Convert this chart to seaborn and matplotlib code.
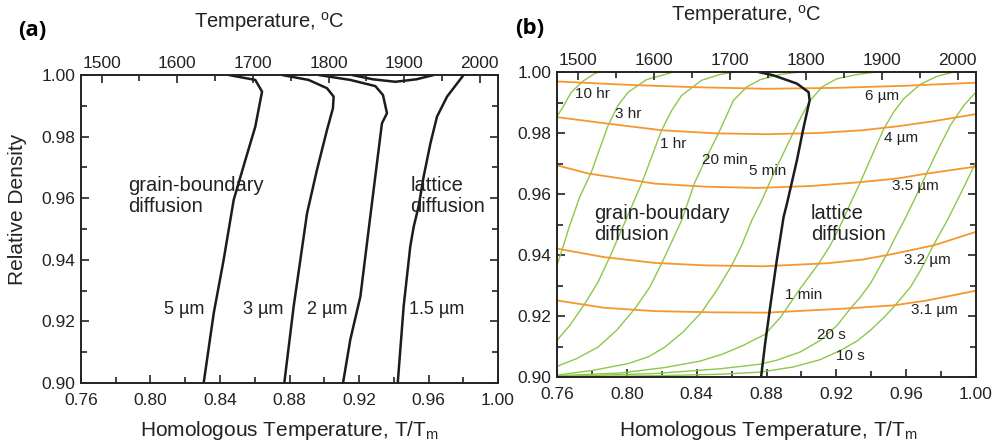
import matplotlib
matplotlib.use("Agg")
import matplotlib.pyplot as plt
from matplotlib.ticker import MultipleLocator, FormatStrFormatter
import seaborn as sns

# melting point used for the upper temperature scale (K)
TM = 2297

# ---- panel (a): grain-size contours separating the two mechanisms ----
a_5um_x = [0.8306, 0.8364, 0.8421, 0.8479, 0.8546, 0.8603, 0.8642, 0.8603, 0.8450]
a_5um_y = [0.900, 0.9227, 0.940, 0.9595, 0.9724, 0.9832, 0.9946, 0.9984, 1.000]
a_3um_x = [0.8770, 0.8824, 0.8901, 0.8958, 0.9016, 0.9050, 0.9054, 0.9016, 0.8910, 0.8757]
a_3um_y = [0.900, 0.9249, 0.9551, 0.9692, 0.9822, 0.9892, 0.9930, 0.9957, 0.9984, 1.000]
a_2um_x = [0.9108, 0.9150, 0.9208, 0.9265, 0.9332, 0.9361, 0.9338, 0.9294, 0.9150, 0.8968]
a_2um_y = [0.900, 0.9141, 0.9281, 0.9541, 0.9843, 0.9876, 0.9935, 0.9964, 0.9984, 1.000]
a_bowl_x = [0.9160, 0.9280, 0.9409, 0.9530, 0.9630]
a_bowl_y = [1.000, 0.9986, 0.9978, 0.9986, 1.000]
a_15um_x = [0.9423, 0.9457, 0.9495, 0.9515, 0.9543, 0.9572, 0.9611, 0.9649, 0.9707, 0.9802]
a_15um_y = [0.900, 0.9249, 0.9443, 0.9508, 0.9573, 0.9670, 0.9778, 0.9865, 0.9930, 1.000]

a_curves = [(a_5um_x, a_5um_y), (a_3um_x, a_3um_y), (a_2um_x, a_2um_y),
            (a_bowl_x, a_bowl_y), (a_15um_x, a_15um_y)]
a_labels = ["5 µm", "3 µm", "2 µm", "1.5 µm"]
a_label_x = [0.8076, 0.8531, 0.8901, 0.9486]
a_label_y = [0.924, 0.924, 0.924, 0.924]

# ---- panel (b): boundary, grain-size contours and isochrones ----
b_bound_x = [0.8754, 0.8840, 0.8974, 0.9041, 0.9047, 0.9013, 0.8974, 0.8917, 0.8898, 0.8859, 0.8821, 0.8792, 0.8769]
b_bound_y = [1.000, 0.9989, 0.9962, 0.9934, 0.9907, 0.9820, 0.9710, 0.9568, 0.9525, 0.9383, 0.9230, 0.9109, 0.900]

# grain size contours (orange)
gs_names = ["6 µm", "4 µm", "3.5 µm", "3.2 µm", "3.1 µm"]
gs_6_x = [0.76, 0.80, 0.84, 0.88, 0.92, 0.96, 1.00]
gs_6_y = [0.9969, 0.9958, 0.9950, 0.9945, 0.9948, 0.9955, 0.9965]
gs_4_x = [0.76, 0.79, 0.82, 0.85, 0.88, 0.91, 0.935, 0.955, 0.975, 1.00]
gs_4_y = [0.9852, 0.9830, 0.9809, 0.9799, 0.9796, 0.9800, 0.9809, 0.9822, 0.9838, 0.9862]
gs_35_x = [0.76, 0.778, 0.80, 0.816, 0.845, 0.875, 0.905, 0.934, 0.955, 0.972, 1.00]
gs_35_y = [0.9694, 0.9667, 0.9648, 0.9634, 0.9624, 0.9620, 0.9626, 0.9639, 0.9651, 0.9667, 0.9690]
gs_32_x = [0.76, 0.787, 0.816, 0.845, 0.878, 0.915, 0.935, 0.953, 0.976, 1.00]
gs_32_y = [0.9421, 0.9393, 0.9374, 0.9366, 0.9363, 0.9373, 0.9385, 0.9404, 0.9432, 0.9476]
gs_31_x = [0.76, 0.787, 0.816, 0.85, 0.88, 0.924, 0.953, 0.972, 1.00]
gs_31_y = [0.9251, 0.9227, 0.9216, 0.9212, 0.9211, 0.9224, 0.9235, 0.9251, 0.9283]
gs_curves = [(gs_6_x, gs_6_y), (gs_4_x, gs_4_y), (gs_35_x, gs_35_y),
             (gs_32_x, gs_32_y), (gs_31_x, gs_31_y)]
gs_label_x = [0.9367, 0.9472, 0.9520, 0.9587, 0.9625]
gs_label_y = [0.9921, 0.9785, 0.9625, 0.9385, 0.9221]

# isochrones (green)
t_names = ["10 hr", "3 hr", "1 hr", "20 min", "5 min", "1 min", "20 s", "10 s"]
t_10h_x = [0.76, 0.7634, 0.7682, 0.7749, 0.7816, 0.7845]
t_10h_y = [0.9855, 0.9885, 0.9934, 0.9970, 0.9995, 1.000]
t_3h_x = [0.76, 0.7634, 0.7673, 0.7730, 0.7797, 0.7845, 0.7893, 0.7950, 0.8008, 0.8113, 0.8237, 0.8266]
t_3h_y = [0.9366, 0.9426, 0.9497, 0.9590, 0.9672, 0.9749, 0.9825, 0.9891, 0.9934, 0.9975, 0.9995, 1.000]
t_1h_x = [0.76, 0.7673, 0.7759, 0.7835, 0.7902, 0.7994, 0.8088, 0.8199, 0.8257, 0.8314, 0.8429, 0.8534, 0.8620]
t_1h_y = [0.9120, 0.9169, 0.9240, 0.9311, 0.9393, 0.9514, 0.9639, 0.9809, 0.9874, 0.9923, 0.9973, 0.9992, 1.000]
t_20m_x = [0.76, 0.7711, 0.7835, 0.7941, 0.8046, 0.8132, 0.8199, 0.8257, 0.8314, 0.8390, 0.8457,
           0.8524, 0.8611, 0.8687, 0.8764, 0.8879, 0.8993]
t_20m_y = [0.9035, 0.9060, 0.9098, 0.9153, 0.9224, 0.9295, 0.9372, 0.9443, 0.9514, 0.9639, 0.9721,
           0.9798, 0.9907, 0.9951, 0.9975, 0.9992, 1.000]
t_5m_x = [0.76, 0.7807, 0.8008, 0.8123, 0.8218, 0.8323, 0.8429, 0.8515, 0.8601, 0.8658, 0.8716,
          0.8764, 0.8850, 0.8946, 0.9003, 0.9051, 0.9118, 0.9204, 0.9319, 0.9434]
t_5m_y = [0.9006, 0.9022, 0.9044, 0.9066, 0.9098, 0.9148, 0.9213, 0.9284, 0.9366, 0.9432, 0.9514,
          0.9568, 0.9678, 0.9792, 0.9858, 0.9907, 0.9951, 0.9978, 0.9992, 1.000]
t_1m_x = [0.76, 0.7960, 0.8218, 0.8419, 0.8544, 0.8668, 0.8792, 0.8879, 0.8993, 0.9099, 0.9166,
          0.9223, 0.9280, 0.9338, 0.9405, 0.9472, 0.9529, 0.9587, 0.9682, 0.9778, 0.9874]
t_1m_y = [0.9004, 0.9013, 0.9031, 0.9052, 0.9074, 0.9104, 0.9140, 0.9195, 0.9290, 0.9372, 0.9432,
          0.9497, 0.9568, 0.9639, 0.9727, 0.9814, 0.9869, 0.9913, 0.9960, 0.9986, 1.000]
t_20s_x = [0.76, 0.8151, 0.8534, 0.8764, 0.8859, 0.8993, 0.9108, 0.9204, 0.9280, 0.9338, 0.9395,
           0.9443, 0.9491, 0.9539, 0.9587, 0.9654, 0.9721, 0.9788, 0.9855, 0.9931, 1.000]
t_20s_y = [0.9002, 0.9011, 0.9027, 0.9042, 0.9055, 0.9082, 0.9120, 0.9169, 0.9224, 0.9262, 0.9306,
           0.9355, 0.9404, 0.9459, 0.9511, 0.9590, 0.9672, 0.9752, 0.9827, 0.9891, 0.9934]
t_10s_x = [0.76, 0.8151, 0.8534, 0.8764, 0.8955, 0.9108, 0.9223, 0.9319, 0.9395, 0.9472, 0.9529,
           0.9625, 0.9682, 0.9759, 0.9836, 0.9912, 1.000]
t_10s_y = [0.9001, 0.9004, 0.9009, 0.9016, 0.9033, 0.9057, 0.9087, 0.9118, 0.9153, 0.9195, 0.9230,
           0.9295, 0.9350, 0.9435, 0.9514, 0.9601, 0.9705]
t_curves = [(t_10h_x, t_10h_y), (t_3h_x, t_3h_y), (t_1h_x, t_1h_y), (t_20m_x, t_20m_y),
            (t_5m_x, t_5m_y), (t_1m_x, t_1m_y), (t_20s_x, t_20s_y), (t_10s_x, t_10s_y)]
t_label_x = [0.7701, 0.7931, 0.8190, 0.8429, 0.8697, 0.8907, 0.9089, 0.9200]
t_label_y = [0.9929, 0.9861, 0.9765, 0.9713, 0.9674, 0.9268, 0.9139, 0.9069]

ORANGE = "#f7962d"
GREEN = "#8cc84b"
BLACK = "#1c1c1c"

sns.set_style("ticks")
plt.rcParams["font.family"] = ["Liberation Sans", "DejaVu Sans"]
plt.rcParams["mathtext.fontset"] = "custom"
plt.rcParams["mathtext.rm"] = "Liberation Sans"
plt.rcParams["mathtext.it"] = "Liberation Sans:italic"
TXT = "#222222"

fig = plt.figure(figsize=(9.92, 4.43), dpi=100)
ax_a = fig.add_axes([81 / 992, 1 - 383 / 443, 417 / 992, 308 / 443])
ax_b = fig.add_axes([557 / 992, 1 - 377 / 443, 419 / 992, 305 / 443])


def line(ax, xs, ys, color, lw):
    sns.lineplot(x=xs, y=ys, ax=ax, sort=False, estimator=None, color=color,
                 linewidth=lw, legend=False)


def style_axes(ax):
    ax.set_xlim(0.76, 1.00)
    ax.set_ylim(0.90, 1.00)
    ax.xaxis.set_major_locator(MultipleLocator(0.04))
    ax.xaxis.set_minor_locator(MultipleLocator(0.02))
    ax.yaxis.set_major_locator(MultipleLocator(0.02))
    ax.yaxis.set_minor_locator(MultipleLocator(0.01))
    ax.xaxis.set_major_formatter(FormatStrFormatter("%.2f"))
    ax.yaxis.set_major_formatter(FormatStrFormatter("%.2f"))
    ax.tick_params(which="both", direction="in", left=True, right=True, bottom=True,
                   top=False, width=1.2, color=TXT, labelsize=12.5, labelcolor=TXT)
    ax.tick_params(axis="y", pad=4)
    ax.tick_params(axis="x", pad=7)
    ax.tick_params(which="major", length=6)
    ax.tick_params(which="minor", length=4)
    ax.set_xlabel("")
    ax.set_ylabel("")
    for s in ax.spines.values():
        s.set_linewidth(1.4)
        s.set_color(TXT)
        s.set_visible(True)

    top = ax.twiny()
    top.set_xlim(0.76 * TM - 273, 1.00 * TM - 273)
    top.xaxis.set_major_locator(MultipleLocator(100))
    top.xaxis.set_minor_locator(MultipleLocator(50))
    top.tick_params(which="both", direction="in", width=1.2, color=TXT,
                    labelsize=12.5, labelcolor=TXT, pad=3)
    top.tick_params(which="major", length=6)
    top.tick_params(which="minor", length=4)
    for s in top.spines.values():
        s.set_visible(False)
    return top


# panel (a)
for xs, ys in a_curves:
    line(ax_a, xs, ys, BLACK, 1.8)
for lab, x, y in zip(a_labels, a_label_x, a_label_y):
    ax_a.text(x, y, lab, fontsize=13, ha="left", va="center", color=TXT)
ax_a.text(0.7874, 0.9608, "grain-boundary\ndiffusion", fontsize=14.5, ha="left",
          va="center", color=TXT, linespacing=1.15)
ax_a.text(0.9497, 0.9608, "lattice\ndiffusion", fontsize=14.5, ha="left",
          va="center", color=TXT, linespacing=1.15)
style_axes(ax_a)

# panel (b)
for xs, ys in t_curves:
    line(ax_b, xs, ys, GREEN, 1.0)
for xs, ys in gs_curves:
    line(ax_b, xs, ys, ORANGE, 1.3)
line(ax_b, b_bound_x, b_bound_y, BLACK, 1.8)
for lab, x, y in zip(t_names, t_label_x, t_label_y):
    ax_b.text(x, y, lab, fontsize=11, ha="left", va="center", color=TXT)
for lab, x, y in zip(gs_names, gs_label_x, gs_label_y):
    ax_b.text(x, y, lab, fontsize=11, ha="left", va="center", color=TXT)
ax_b.text(0.7811, 0.9502, "grain-boundary\ndiffusion", fontsize=14.5, ha="left",
          va="center", color=TXT, linespacing=1.15)
ax_b.text(0.9055, 0.9502, "lattice\ndiffusion", fontsize=14.5, ha="left",
          va="center", color=TXT, linespacing=1.15)
style_axes(ax_b)

# figure texts
fig.text(269 / 992, 1 - 22 / 443, r"Temperature, $^{\mathrm{o}}$C", fontsize=14.5,
         ha="center", va="center", color=TXT)
fig.text(746 / 992, 1 - 15 / 443, r"Temperature, $^{\mathrm{o}}$C", fontsize=14.5,
         ha="center", va="center", color=TXT)
fig.text(289 / 992, 1 - 430 / 443, r"Homologous Temperature, T/T$_{\mathrm{m}}$",
         fontsize=15, ha="center", va="center", color=TXT)
fig.text(768 / 992, 1 - 430 / 443, r"Homologous Temperature, T/T$_{\mathrm{m}}$",
         fontsize=15, ha="center", va="center", color=TXT)
fig.text(18 / 992, 1 - 209 / 443, "Relative Density", fontsize=15, rotation=90,
         ha="center", va="center", color=TXT)
fig.text(32 / 992, 1 - 30 / 443, "(a)", fontsize=16, fontweight="bold",
         family=["Open Sans", "DejaVu Sans"], ha="center", va="center", color="black")
fig.text(530 / 992, 1 - 28 / 443, "(b)", fontsize=16, fontweight="bold",
         family=["Open Sans", "DejaVu Sans"], ha="center", va="center", color="black")

fig.savefig("out.png", dpi=100)
